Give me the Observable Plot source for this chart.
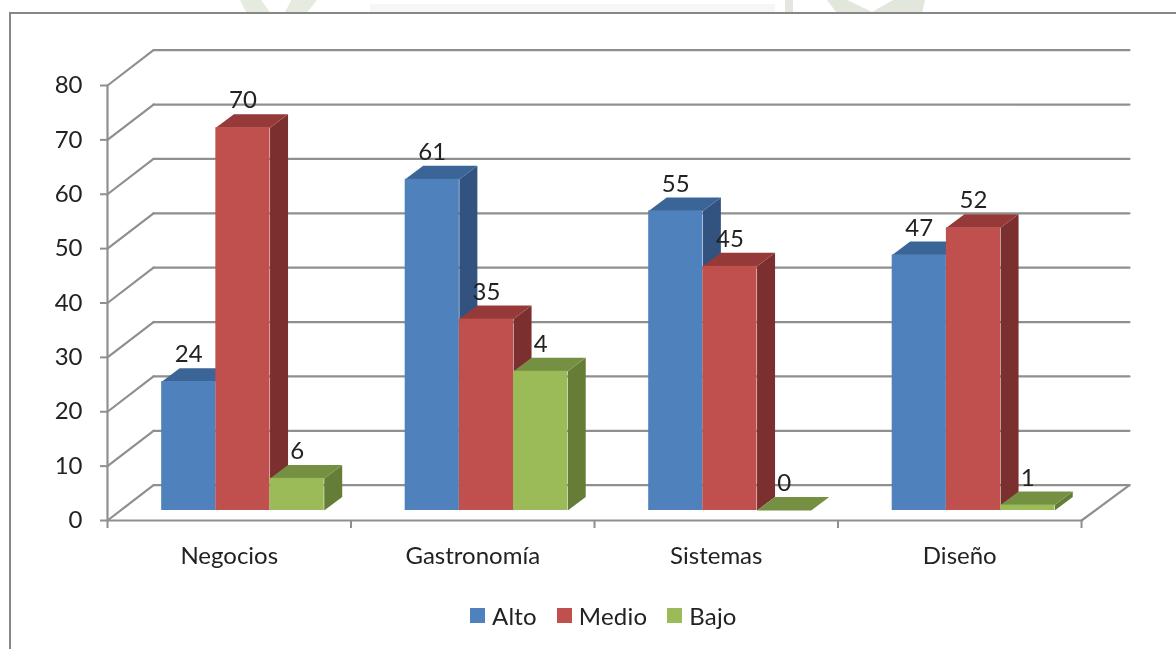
<!DOCTYPE html>
<html>
<head>
<meta charset="utf-8">
<script src="https://cdn.jsdelivr.net/npm/d3@7"></script>
<script src="https://cdn.jsdelivr.net/npm/@observablehq/plot@0.6"></script>
<style>
  html, body { margin: 0; padding: 0; background: #fff; overflow: hidden; }
  #frame { position: absolute; left: 9px; top: 12px; right: 0; bottom: 0;
           border-left: 2px solid #878787; border-top: 2px solid #878787; filter: blur(0.4px); }
  #chart { position: absolute; left: 0; top: 0; width: 1176px; filter: blur(0.45px); }
  #legend { position: absolute; left: 470px; top: 599px; width: 700px; filter: blur(0.4px); letter-spacing: 0.2px; }
  #legend svg { margin-right: 7px !important; }
  #legend span { margin-right: 20px !important; }
  .wm { position: absolute; top: 0; height: 12px; }
</style>
</head>
<body>
<div class="wm" style="left:240px;width:30px;background:#e6ebdf;clip-path:polygon(0 0,70% 0,100% 100%,20% 100%)"></div>
<div class="wm" style="left:285px;width:32px;background:#e6ebdf;clip-path:polygon(20% 0,100% 0,70% 100%,0 100%)"></div>
<div class="wm" style="left:370px;width:405px;top:4px;height:8px;background:#f6f7f5"></div>
<div class="wm" style="left:785px;width:8px;background:#e4e7df"></div>
<div class="wm" style="left:827px;width:45px;background:#e2e7dc;clip-path:polygon(0 0,45% 0,100% 100%,20% 100%)"></div>
<div class="wm" style="left:872px;width:53px;background:#e2e7dc;clip-path:polygon(0 100%,40% 0,100% 0,95% 100%)"></div>
<div id="frame"></div>
<div id="chart"></div>
<div id="legend"></div>
<script>
const categories = ["Negocios", "Gastronomía", "Sistemas", "Diseño"];
const seriesNames = ["Alto", "Medio", "Bajo"];
// drawn heights as they appear in the picture
const alto = [23.7, 60.9, 55.1, 47];
const medio = [70.4, 35.2, 44.9, 52];
const bajo = [5.9, 25.6, 0, 1];
// printed labels (the Gastronomía/Bajo label reads 4 in the picture)
const altoLabels = [24, 61, 55, 47];
const medioLabels = [70, 35, 45, 52];
const bajoLabels = [6, 4, 0, 1];
const yTicks = [0, 10, 20, 30, 40, 50, 60, 70, 80];
const categoryEdges = [0, 1, 2, 3, 4];
const frontColors = ["#4f81bd", "#c0504d", "#9bbb59"];
const topColors = ["#3b6596", "#953a38", "#769043"];
const sideColors = ["#325280", "#7b2f2e", "#667d38"];

const font = "Lato, Carlito, sans-serif";
const gridColor = "#8f8f8f";
const inkColor = "#222";

// 3D projection expressed in data units
const wallDx = 0.189, wallDy = 6.5;
const barDx = 0.0739, barDy = 2.48;
const barStart = 0.2225, barWidth = 0.2225, floorLift = 1.84;
const xEnd = 4.197;

const allValues = [alto, medio, bajo];
const allLabels = [altoLabels, medioLabels, bajoLabels];

const bars = allValues.map((vals, s) => vals.map((v, c) => {
  const x1 = c + barStart + s * barWidth, x2 = x1 + barWidth;
  const y1 = floorLift, y2 = floorLift + v;
  return {s, c, v, label: allLabels[s][c], x1, x2, y1, y2};
}));

function polys(rows, pts) {
  return rows.flatMap((b, i) => pts(b).map(([x, y]) => ({id: i, x, y})));
}
const sideFace = b => [[b.x2, b.y1], [b.x2 + barDx, b.y1 + barDy], [b.x2 + barDx, b.y2 + barDy], [b.x2, b.y2]];
const topFace = b => [[b.x1, b.y2], [b.x2, b.y2], [b.x2 + barDx, b.y2 + barDy], [b.x1 + barDx, b.y2 + barDy]];

const barMarks = bars.flatMap((rows, s) => [
  Plot.line(polys(rows, sideFace), {x: "x", y: "y", z: "id", fill: sideColors[s], stroke: "none"}),
  Plot.line(polys(rows, topFace), {x: "x", y: "y", z: "id", fill: topColors[s], stroke: "none"}),
  Plot.rect(rows, {x1: "x1", x2: "x2", y1: "y1", y2: "y2", fill: frontColors[s]})
]);

const wallLines = yTicks.flatMap(t => [
  {id: "b" + t, x: wallDx, y: t + wallDy},
  {id: "b" + t, x: xEnd, y: t + wallDy},
  {id: "d" + t, x: 0, y: t},
  {id: "d" + t, x: wallDx, y: t + wallDy}
]);
const floorLines = [
  {id: "f", x: 0, y: 0}, {id: "f", x: 4, y: 0},
  {id: "r", x: 4, y: 0}, {id: "r", x: xEnd, y: wallDy},
  {id: "a", x: 0, y: 0}, {id: "a", x: 0, y: 80}
];

const plot = Plot.plot({
  width: 1176,
  height: 590,
  marginLeft: 107,
  marginRight: 47,
  marginTop: 85,
  marginBottom: 70,
  x: {domain: [0, xEnd]},
  y: {domain: [0, 80]},
  style: {background: "transparent", fontFamily: font},
  marks: [
    Plot.line(wallLines, {x: "x", y: "y", z: "id", stroke: gridColor, strokeWidth: 2.2}),
    Plot.line(floorLines, {x: "x", y: "y", z: "id", stroke: gridColor, strokeWidth: 2.2}),
    Plot.axisY({ticks: yTicks, tickSize: 7, tickPadding: 18, stroke: gridColor, strokeWidth: 2, strokeOpacity: 1,
                color: inkColor, fontSize: 24, label: null, tickFormat: d => String(d)}),
    Plot.axisX({ticks: categoryEdges, tickSize: 8, stroke: gridColor, strokeWidth: 2, strokeOpacity: 1, tickFormat: () => "", label: null}),
    Plot.text(categories, {x: (d, i) => i + 0.5, y: () => 0, text: d => d, dy: 36, fontSize: 24, fill: inkColor}),
    ...barMarks,
    Plot.text(bars.flat(), {x: d => (d.x1 + d.x2) / 2, y: "y2", text: d => String(d.label), dy: -27, fontSize: 24, fill: inkColor})
  ]
});
document.getElementById("chart").append(plot);

const legend = Plot.legend({
  color: {type: "ordinal", domain: seriesNames, range: frontColors},
  swatchSize: 15,
  style: {fontSize: "24px", fontFamily: font, color: inkColor}
});
document.getElementById("legend").append(legend);
</script>
</body>
</html>
